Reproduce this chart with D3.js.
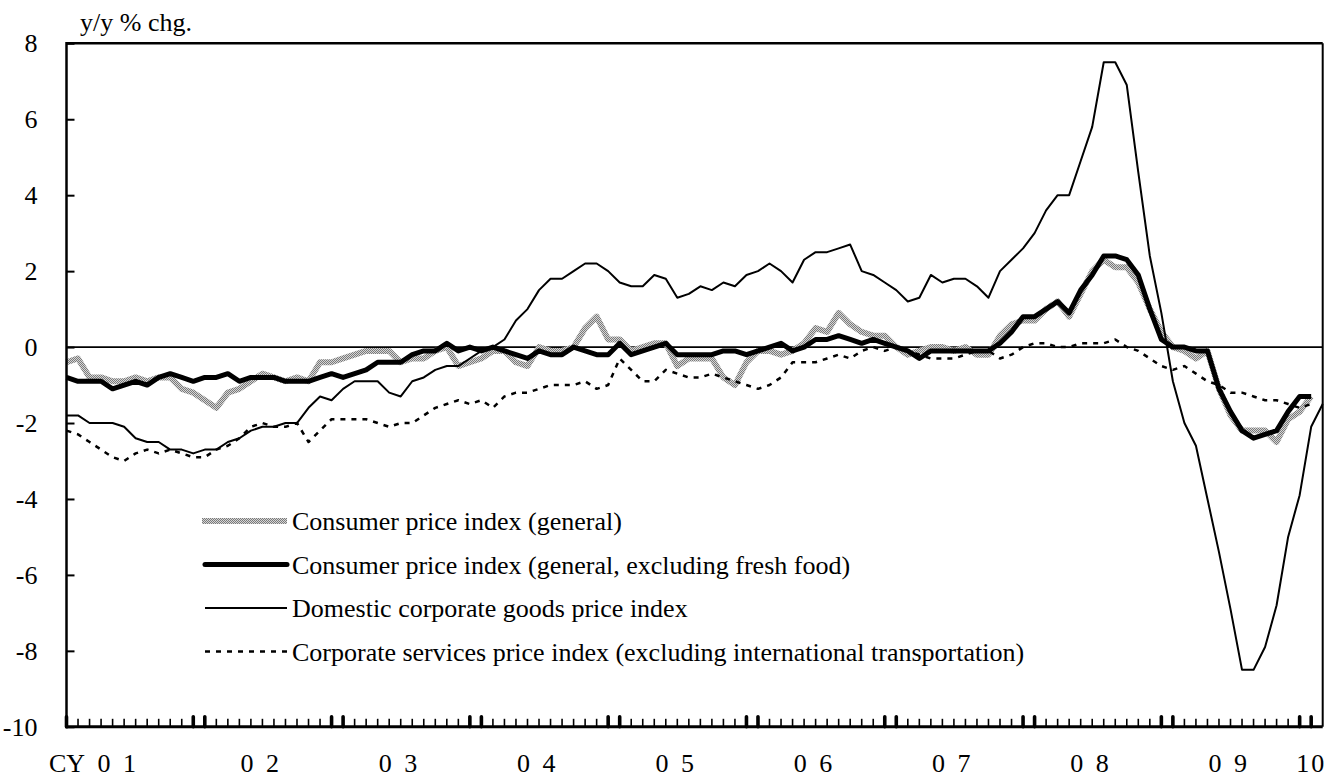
<!DOCTYPE html>
<html>
<head>
<meta charset="utf-8">
<script src="https://cdn.jsdelivr.net/npm/d3@7"></script>
<style>
  body { margin: 0; background: #fff; }
  svg { display: block; }
  text { font-family: "Liberation Serif", "Times New Roman", serif !important; fill: #000; }
</style>
</head>
<body>
<svg id="chart" width="1332" height="778"></svg>
<script>
// Monthly y/y % change, Jan 2001 onward
const cpiGeneral = [
  -0.4, -0.3, -0.8, -0.8, -0.9, -0.9, -0.8, -0.9, -0.8, -0.8, -1.1, -1.2,
  -1.4, -1.6, -1.2, -1.1, -0.9, -0.7, -0.8, -0.9, -0.8, -0.9, -0.4, -0.4,
  -0.3, -0.2, -0.1, -0.1, -0.1, -0.4, -0.3, -0.3, -0.1, 0.0, -0.5, -0.4,
  -0.3, -0.1, -0.1, -0.4, -0.5, 0.0, -0.1, -0.1, 0.0, 0.5, 0.8, 0.2,
  0.2, -0.1, 0.0, 0.1, 0.1, -0.5, -0.3, -0.3, -0.3, -0.8, -1.0, -0.4,
  -0.1, -0.1, -0.2, -0.1, 0.1, 0.5, 0.4, 0.9, 0.6, 0.4, 0.3, 0.3,
  0.0, -0.2, -0.1, 0.0, 0.0, -0.1, 0.0, -0.2, -0.2, 0.3, 0.6, 0.7,
  0.7, 1.0, 1.2, 0.8, 1.4, 2.0, 2.3, 2.1, 2.1, 1.7, 1.0, 0.4,
  0.0, -0.1, -0.3, -0.1, -1.1, -1.8, -2.2, -2.2, -2.2, -2.5, -1.9, -1.7,
  -1.3
];
const cpiCore = [
  -0.8, -0.9, -0.9, -0.9, -1.1, -1.0, -0.9, -1.0, -0.8, -0.7, -0.8, -0.9,
  -0.8, -0.8, -0.7, -0.9, -0.8, -0.8, -0.8, -0.9, -0.9, -0.9, -0.8, -0.7,
  -0.8, -0.7, -0.6, -0.4, -0.4, -0.4, -0.2, -0.1, -0.1, 0.1, -0.1, 0.0,
  -0.1, 0.0, -0.1, -0.2, -0.3, -0.1, -0.2, -0.2, 0.0, -0.1, -0.2, -0.2,
  0.1, -0.2, -0.1, 0.0, 0.1, -0.2, -0.2, -0.2, -0.2, -0.1, -0.1, -0.2,
  -0.1, 0.0, 0.1, -0.1, 0.0, 0.2, 0.2, 0.3, 0.2, 0.1, 0.2, 0.1,
  0.0, -0.1, -0.3, -0.1, -0.1, -0.1, -0.1, -0.1, -0.1, 0.1, 0.4, 0.8,
  0.8, 1.0, 1.2, 0.9, 1.5, 1.9, 2.4, 2.4, 2.3, 1.9, 1.0, 0.2,
  0.0, 0.0, -0.1, -0.1, -1.1, -1.7, -2.2, -2.4, -2.3, -2.2, -1.7, -1.3,
  -1.3
];
const cgpi = [
  -1.8, -1.8, -2.0, -2.0, -2.0, -2.1, -2.4, -2.5, -2.5, -2.7, -2.7, -2.8,
  -2.7, -2.7, -2.5, -2.4, -2.2, -2.1, -2.1, -2.0, -2.0, -1.6, -1.3, -1.4,
  -1.1, -0.9, -0.9, -0.9, -1.2, -1.3, -0.9, -0.8, -0.6, -0.5, -0.5, -0.3,
  -0.1, 0.0, 0.2, 0.7, 1.0, 1.5, 1.8, 1.8, 2.0, 2.2, 2.2, 2.0,
  1.7, 1.6, 1.6, 1.9, 1.8, 1.3, 1.4, 1.6, 1.5, 1.7, 1.6, 1.9,
  2.0, 2.2, 2.0, 1.7, 2.3, 2.5, 2.5, 2.6, 2.7, 2.0, 1.9, 1.7,
  1.5, 1.2, 1.3, 1.9, 1.7, 1.8, 1.8, 1.6, 1.3, 2.0, 2.3, 2.6,
  3.0, 3.6, 4.0, 4.0, 4.9, 5.8, 7.5, 7.5, 6.9, 4.6, 2.4, 0.9,
  -0.9, -2.0, -2.6, -4.0, -5.4, -6.9, -8.5, -8.5, -7.9, -6.8, -5.0, -3.9,
  -2.1, -1.5
];
const cspi = [
  -2.2, -2.3, -2.5, -2.7, -2.9, -3.0, -2.8, -2.7, -2.8, -2.7, -2.8, -2.9,
  -2.9, -2.7, -2.6, -2.4, -2.1, -2.0, -2.1, -2.1, -2.0, -2.5, -2.2, -1.9,
  -1.9, -1.9, -1.9, -2.0, -2.1, -2.0, -2.0, -1.8, -1.6, -1.5, -1.4, -1.5,
  -1.4, -1.6, -1.3, -1.2, -1.2, -1.1, -1.0, -1.0, -1.0, -0.9, -1.1, -1.0,
  -0.3, -0.6, -0.9, -0.9, -0.6, -0.7, -0.8, -0.8, -0.7, -0.8, -0.9, -1.0,
  -1.1, -1.0, -0.8, -0.4, -0.4, -0.4, -0.3, -0.2, -0.3, -0.1, 0.0, -0.1,
  0.0, -0.1, -0.2, -0.3, -0.3, -0.3, -0.2, -0.1, -0.1, -0.3, -0.2, 0.0,
  0.1, 0.1, 0.0, 0.0, 0.1, 0.1, 0.1, 0.2, 0.0, -0.1, -0.3, -0.5,
  -0.6, -0.5, -0.7, -0.9, -1.0, -1.2, -1.2, -1.3, -1.4, -1.4, -1.5, -1.6,
  -1.5
];
const yTicks = [8, 6, 4, 2, 0, -2, -4, -6, -8, -10];
const yearLabels = ["0 1", "0 2", "0 3", "0 4", "0 5", "0 6", "0 7", "0 8", "0 9", "10"];
const legendLabels = [
  "Consumer price index (general)",
  "Consumer price index (general, excluding fresh food)",
  "Domestic corporate goods price index",
  "Corporate services price index (excluding international transportation)"
];

const serif = "'Liberation Serif','Times New Roman',serif";
const svg = d3.select("#chart");
const monthSpan = 109;
const x = d3.scaleLinear().domain([0, monthSpan]).range([66.5, 1322.7]);
const y = d3.scaleLinear().domain([-10, 8]).range([726.8, 43.3]);

// dithered grey texture for the headline CPI line
const defs = svg.append("defs");
const pat = defs.append("pattern").attr("id", "stipple")
  .attr("patternUnits", "userSpaceOnUse").attr("width", 2).attr("height", 2);
pat.append("rect").attr("width", 2).attr("height", 2).attr("fill", "#d6d6d6");
pat.append("rect").attr("width", 1).attr("height", 1).attr("fill", "#7a7a7a");
pat.append("rect").attr("x", 1).attr("y", 1).attr("width", 1).attr("height", 1).attr("fill", "#7a7a7a");

// zero line
svg.append("line")
  .attr("x1", x(0)).attr("x2", x(monthSpan))
  .attr("y1", y(0)).attr("y2", y(0))
  .attr("stroke", "#000").attr("stroke-width", 1.6);

const line = d3.line().x((d, i) => x(i)).y(d => y(d));

const series = [
  { data: cpiGeneral, stroke: "url(#stipple)", width: 6, dash: null },
  { data: cpiCore, stroke: "#000", width: 5, dash: null },
  { data: cgpi, stroke: "#000", width: 2, dash: null },
  { data: cspi, stroke: "#000", width: 2.5, dash: "5,6" }
];

const plot = svg.append("g");
series.forEach(s => {
  plot.append("path")
    .attr("d", line(s.data))
    .attr("fill", "none")
    .attr("stroke", s.stroke)
    .attr("stroke-width", s.width)
    .attr("stroke-linejoin", "round")
    .attr("stroke-dasharray", s.dash);
});

// frame
const frame = svg.append("g").attr("stroke", "#000").attr("fill", "none");
frame.append("line").attr("x1", x(0)).attr("x2", x(monthSpan)).attr("y1", y(8)).attr("y2", y(8)).attr("stroke-width", 2.5);
frame.append("line").attr("x1", x(monthSpan)).attr("x2", x(monthSpan)).attr("y1", y(8)).attr("y2", y(-10)).attr("stroke-width", 2);
frame.append("line").attr("x1", x(0)).attr("x2", x(0)).attr("y1", y(8) - 1.2).attr("y2", y(-10) + 1.5).attr("stroke-width", 2.5);
frame.append("line").attr("x1", x(0)).attr("x2", x(monthSpan)).attr("y1", y(-10)).attr("y2", y(-10)).attr("stroke-width", 3);

// y axis: inward ticks and labels
const yAxis = d3.axisLeft(y).tickValues(yTicks).tickSize(-8).tickPadding(29).tickFormat(d => String(d));
const gy = svg.append("g").attr("transform", `translate(${x(0)},0)`).call(yAxis)
  .attr("font-family", serif).attr("font-size", 26);
gy.select(".domain").remove();
gy.selectAll(".tick line").attr("stroke", "#000").attr("stroke-width", 2);
gy.selectAll(".tick text").style("font-family", serif).style("font-size", "26px");

// x axis: monthly ticks, heavier marks at each year turn
const months = d3.range(0, monthSpan);
const isTurn = d => d % 12 === 0 || d % 12 === 11;
svg.append("g").selectAll("line").data(months).join("line")
  .attr("x1", d => x(d)).attr("x2", d => x(d))
  .attr("y1", d => isTurn(d) ? y(-10) - 10 : y(-10) - 8)
  .attr("y2", y(-10))
  .attr("stroke", "#000")
  .attr("stroke-linecap", d => isTurn(d) ? "round" : "butt")
  .attr("stroke-width", d => isTurn(d) ? 3.6 : 1.6);

const labelBase = 772;
svg.append("text").attr("x", x(0) + 0.5).attr("y", labelBase).attr("text-anchor", "middle")
  .attr("font-size", 26).text("CY");
svg.selectAll("text.yr").data(yearLabels).join("text")
  .attr("class", "yr")
  .attr("x", (d, k) => x(k === 0 ? 4.5 : (k === yearLabels.length - 1 ? 108 : 12 * k + 4.9)))
  .attr("y", labelBase)
  .attr("text-anchor", "middle")
  .attr("font-size", 26)
  .attr("letter-spacing", (d, k) => k === yearLabels.length - 1 ? 2 : 3)
  .attr("xml:space", "preserve")
  .text(d => d);

// unit label
svg.append("text").attr("x", 80).attr("y", 31).attr("font-size", 26).text("y/y % chg.");

// legend
const legend = svg.append("g");
const legendTop = 521, legendStep = 43.5;
series.forEach((s, k) => {
  const ly = legendTop + k * legendStep;
  legend.append("line")
    .attr("x1", k === 0 ? 202 : 205).attr("x2", 287)
    .attr("y1", ly).attr("y2", ly)
    .attr("stroke", s.stroke)
    .attr("stroke-width", s.width)
    .attr("stroke-linecap", k === 1 ? "round" : "butt")
    .attr("stroke-dasharray", s.dash);
  legend.append("text")
    .attr("x", 292).attr("y", ly + 9)
    .attr("font-size", 26)
    .text(legendLabels[k]);
});
</script>
</body>
</html>
